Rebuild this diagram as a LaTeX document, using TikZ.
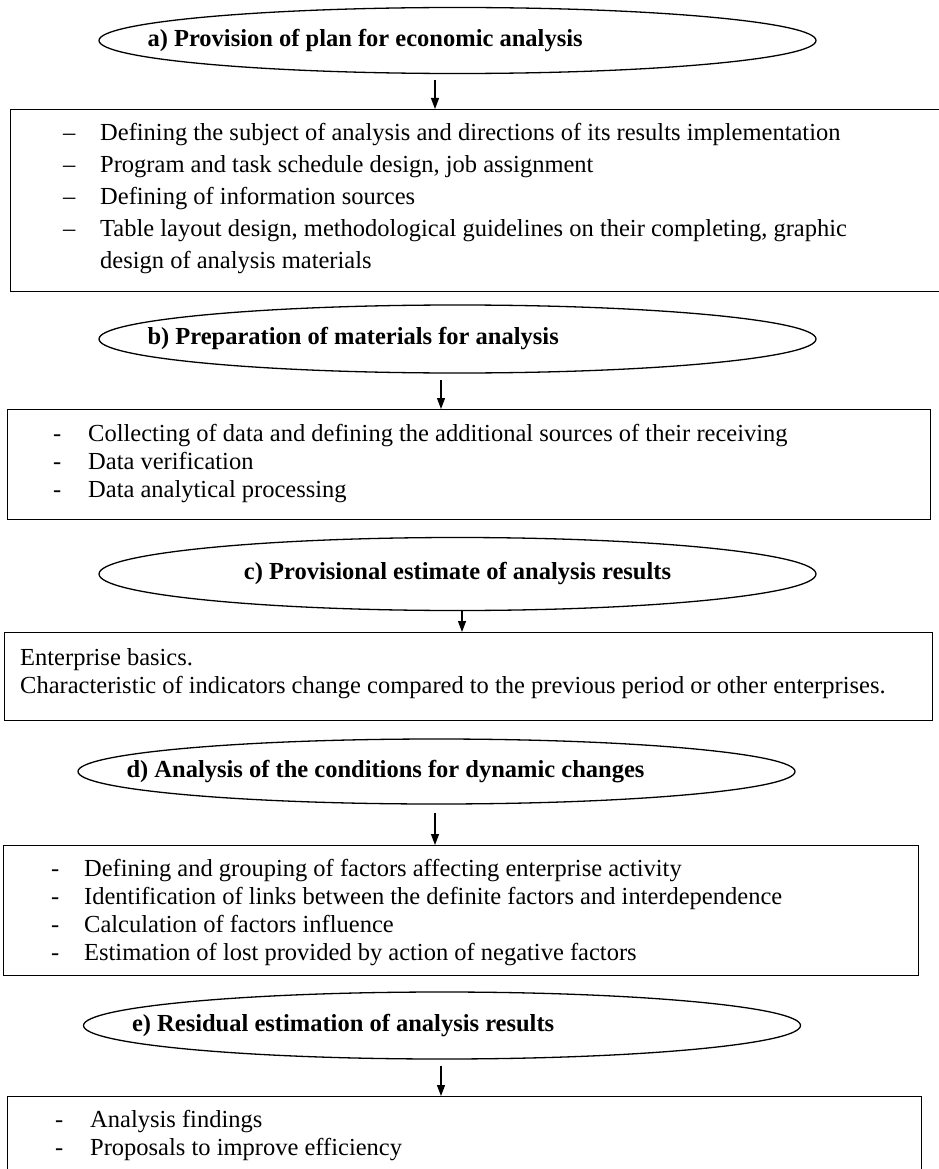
\documentclass[tikz,border=0pt]{standalone}
\usepackage{fontspec}
\setmainfont{Liberation Serif}
\usepackage{tikz}
\usetikzlibrary{shapes.geometric,arrows.meta}

\begin{document}
\begin{tikzpicture}[x=1pt,y=1pt,
    stage/.style={draw,ellipse,line width=1.3pt,minimum width=717pt,minimum height=66pt,inner sep=0pt},
    stagetext/.style={font=\fontsize{24.5}{28}\selectfont\bfseries,inner sep=0pt},
    box/.style={draw,line width=1.3pt,anchor=north west,inner sep=0pt},
    list/.style={font=\fontsize{24.5}{28}\selectfont,inner sep=0pt,anchor=base west},
    flow/.style={line width=1.2pt,-{Triangle[length=11pt,width=8pt]}}]
    \useasboundingbox (0,0) rectangle (938,-1169);

    \node[stage] (pa) at (457.5,-40.5) {};
    \node[stagetext,anchor=west] (pa-t) at ([xshift=49pt]pa.west) {a) Provision of plan for economic analysis};
    \node[box,minimum width=935pt,minimum height=182pt] (ba) at (10,-109) {};
    \node[list,font=\fontsize{24.5}{32}\selectfont] (ba-t) at ([xshift=53pt,yshift=-32pt]ba.north west) {\begin{tabular}[t]{@{}p{37pt}@{}l@{}}
        -- & Defining the subject of analysis and directions of its results implementation\\
        -- & Program and task schedule design, job assignment\\
        -- & Defining of information sources\\
        -- & Table layout design, methodological guidelines on their completing, graphic\\
           & design of analysis materials
    \end{tabular}};
    \coordinate (fa) at (435,-80);
    \draw[flow] (fa) -- (fa |- ba.north);

    \node[stage,minimum height=68pt] (pb) at (457.5,-339) {};
    \node[stagetext,anchor=west] (pb-t) at ([xshift=49pt]pb.west) {b) Preparation of materials for analysis};
    \node[box,minimum width=923pt,minimum height=110pt] (bb) at (7,-409) {};
    \node[list] (bb-t) at ([xshift=46pt,yshift=-32pt]bb.north west) {\begin{tabular}[t]{@{}p{35pt}@{}l@{}}
        - & Collecting of data and defining the additional sources of their receiving\\
        - & Data verification\\
        - & Data analytical processing
    \end{tabular}};
    \coordinate (fb) at (441,-380);
    \draw[flow] (fb) -- (fb |- bb.north);

    \node[stage,minimum height=73pt] (pc) at (457.5,-574) {};
    \node[stagetext] (pc-t) at (pc) {c) Provisional estimate of analysis results};
    \node[box,minimum width=928pt,minimum height=88pt] (bc) at (4,-632) {};
    \node[list] (bc-t) at ([xshift=16pt,yshift=-33pt]bc.north west) {\begin{tabular}[t]{@{}l@{}}
        Enterprise basics.\\
        Characteristic of indicators change compared to the previous period or other enterprises.
    \end{tabular}};
    \coordinate (fc) at (462,-611);
    \draw[flow] (fc) -- (fc |- bc.north);

    \node[stage,minimum height=65pt] (pd) at (436.5,-771.5) {};
    \node[stagetext,anchor=west] (pd-t) at ([xshift=49pt]pd.west) {d) Analysis of the conditions for dynamic changes};
    \node[box,minimum width=915pt,minimum height=130pt] (bd) at (3,-845) {};
    \node[list] (bd-t) at ([xshift=48pt,yshift=-31pt]bd.north west) {\begin{tabular}[t]{@{}p{33pt}@{}l@{}}
        - & Defining and grouping of factors affecting enterprise activity\\
        - & Identification of links between the definite factors and interdependence\\
        - & Calculation of factors influence\\
        - & Estimation of lost provided by action of negative factors
    \end{tabular}};
    \coordinate (fd) at (435,-813);
    \draw[flow] (fd) -- (fd |- bd.north);

    \node[stage,minimum height=67pt] (pe) at (442,-1025.5) {};
    \node[stagetext,anchor=west] (pe-t) at ([xshift=49pt]pe.west) {e) Residual estimation of analysis results};
    \node[box,minimum width=914pt,minimum height=110pt] (be) at (7,-1096) {};
    \node[list] (be-t) at ([xshift=48pt,yshift=-31pt]be.north west) {\begin{tabular}[t]{@{}p{35pt}@{}l@{}}
        - & Analysis findings\\
        - & Proposals to improve efficiency
    \end{tabular}};
    \coordinate (fe) at (441,-1066);
    \draw[flow] (fe) -- (fe |- be.north);
\end{tikzpicture}
\end{document}
